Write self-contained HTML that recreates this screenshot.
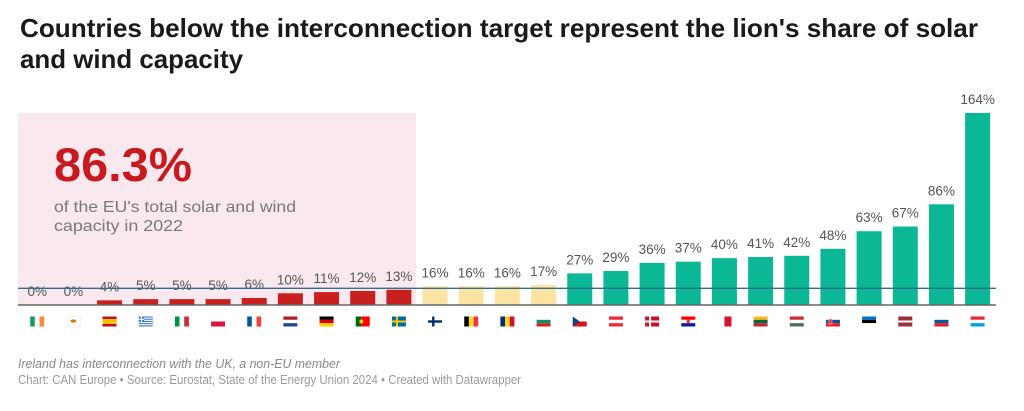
<!DOCTYPE html>
<html><head><meta charset="utf-8"><style>
html,body{margin:0;padding:0;background:#fff;}
svg{display:block;font-family:"Liberation Sans",sans-serif;}
</style></head><body>
<svg width="1024" height="411" viewBox="0 0 1024 411" xmlns="http://www.w3.org/2000/svg">
<text x="20" y="37" font-size="26" font-weight="bold" fill="#1a1a1a" textLength="958" lengthAdjust="spacingAndGlyphs">Countries below the interconnection target represent the lion's share of solar</text>
<text x="20" y="68" font-size="26" font-weight="bold" fill="#1a1a1a" textLength="223" lengthAdjust="spacingAndGlyphs">and wind capacity</text>
<rect x="18" y="113" width="398" height="192" fill="#f9e8ee"/>
<text x="54" y="181" font-size="47" font-weight="bold" fill="#c8191e" textLength="138" lengthAdjust="spacingAndGlyphs">86.3%</text>
<text x="54" y="212" font-size="16" fill="#787878" textLength="242" lengthAdjust="spacingAndGlyphs">of the EU's total solar and wind</text>
<text x="54" y="231" font-size="16" fill="#787878" textLength="129" lengthAdjust="spacingAndGlyphs">capacity in 2022</text>
<g id="bars"></g>
<g id="labels" font-size="13.5" fill="#555" text-anchor="middle"></g>
<line x1="18" y1="288.3" x2="996" y2="288.3" stroke="#2f6f8c" stroke-width="1.3"/>
<line x1="18" y1="305" x2="996" y2="305" stroke="#666" stroke-width="1.5"/>
<g id="flags"></g>
<text x="18" y="368" font-size="13" font-style="italic" fill="#888" textLength="322" lengthAdjust="spacingAndGlyphs">Ireland has interconnection with the UK, a non-EU member</text>
<text x="18" y="384" font-size="13" fill="#9a9a9a" textLength="503" lengthAdjust="spacingAndGlyphs">Chart: CAN Europe • Source: Eurostat, State of the Energy Union 2024 • Created with Datawrapper</text>
</svg>
<script>
var vals=[0,0,4,5,5,5,6,10,11,12,13,16,16,16,17,27,29,36,37,40,41,42,48,63,67,86,164];
var NS="http://www.w3.org/2000/svg";
var bars=document.getElementById("bars"),labels=document.getElementById("labels"),flags=document.getElementById("flags");
function col(v,i){if(i<=10)return "#c8201e";if(i<=14)return "#fde3a2";return "#0bb794";}
function el(n,a,p){var e=document.createElementNS(NS,n);for(var k in a)e.setAttribute(k,a[k]);p.appendChild(e);return e;}
var codes=["IE","CY","ES","GR","IT","PL","FR","NL","DE","PT","SE","FI","BE","RO","BG","CZ","AT","DK","HR","MT","LT","HU","SK","EE","LV","SI","LU"];
function v3(g,a,b,c){el("rect",{x:0,y:0,width:4.67,height:10,fill:a},g);el("rect",{x:4.67,y:0,width:4.67,height:10,fill:b},g);el("rect",{x:9.33,y:0,width:4.67,height:10,fill:c},g);}
function h3(g,a,b,c){el("rect",{x:0,y:0,width:14,height:3.34,fill:a},g);el("rect",{x:0,y:3.33,width:14,height:3.34,fill:b},g);el("rect",{x:0,y:6.66,width:14,height:3.34,fill:c},g);}
function flag(g,c){
switch(c){
case"IE":v3(g,"#169b62","#fff","#ff883e");break;
case"CY":el("rect",{x:0,y:0,width:14,height:10,fill:"#fff",stroke:"#e4e4e4","stroke-width":0.5},g);el("ellipse",{cx:7,cy:4.5,rx:3,ry:1.6,fill:"#d57800"},g);break;
case"ES":el("rect",{x:0,y:0,width:14,height:10,fill:"#c60b1e"},g);el("rect",{x:0,y:2.5,width:14,height:5,fill:"#ffc400"},g);break;
case"GR":el("rect",{x:0,y:0,width:14,height:10,fill:"#3f7fc8"},g);for(var k=0;k<4;k++)el("rect",{x:0,y:1.1+k*2.2,width:14,height:1.1,fill:"#fff"},g);el("rect",{x:0,y:0,width:5.5,height:5.5,fill:"#3f7fc8"},g);el("rect",{x:2.2,y:0,width:1.1,height:5.5,fill:"#fff"},g);el("rect",{x:0,y:2.2,width:5.5,height:1.1,fill:"#fff"},g);break;
case"IT":v3(g,"#009246","#fff","#ce2b37");break;
case"PL":el("rect",{x:0,y:0,width:14,height:5,fill:"#fff"},g);el("rect",{x:0,y:5,width:14,height:5,fill:"#dc143c"},g);break;
case"FR":v3(g,"#0055a4","#fff","#ef4135");break;
case"NL":h3(g,"#ae1c28","#fff","#21468b");break;
case"DE":h3(g,"#000","#dd0000","#ffce00");break;
case"PT":el("rect",{x:0,y:0,width:5.6,height:10,fill:"#006600"},g);el("rect",{x:5.6,y:0,width:8.4,height:10,fill:"#ff0000"},g);el("circle",{cx:5.6,cy:5,r:2,fill:"#ffcc00"},g);break;
case"SE":el("rect",{x:0,y:0,width:14,height:10,fill:"#006aa7"},g);el("rect",{x:4,y:0,width:2,height:10,fill:"#fecc00"},g);el("rect",{x:0,y:4,width:14,height:2,fill:"#fecc00"},g);break;
case"FI":el("rect",{x:0,y:0,width:14,height:10,fill:"#fff"},g);el("rect",{x:4,y:0,width:2.4,height:10,fill:"#002f6c"},g);el("rect",{x:0,y:3.8,width:14,height:2.4,fill:"#002f6c"},g);break;
case"BE":v3(g,"#000","#fdda24","#ef3340");break;
case"RO":v3(g,"#002b7f","#fcd116","#ce1126");break;
case"BG":h3(g,"#fff","#00966e","#d62612");break;
case"CZ":el("rect",{x:0,y:0,width:14,height:5,fill:"#fff"},g);el("rect",{x:0,y:5,width:14,height:5,fill:"#d7141a"},g);el("polygon",{points:"0,0 7,5 0,10",fill:"#11457e"},g);break;
case"AT":h3(g,"#ed2939","#fff","#ed2939");break;
case"DK":el("rect",{x:0,y:0,width:14,height:10,fill:"#c8102e"},g);el("rect",{x:4,y:0,width:2,height:10,fill:"#fff"},g);el("rect",{x:0,y:4,width:14,height:2,fill:"#fff"},g);break;
case"HR":h3(g,"#ff0000","#fff","#171796");el("rect",{x:5.5,y:2.5,width:3,height:4,fill:"#e03030"},g);break;
case"MT":el("rect",{x:0,y:0,width:7,height:10,fill:"#fff"},g);el("rect",{x:7,y:0,width:7,height:10,fill:"#cf142b"},g);break;
case"LT":h3(g,"#fdb913","#006a44","#c1272d");break;
case"HU":h3(g,"#ce2939","#fff","#477050");break;
case"SK":h3(g,"#fff","#0b4ea2","#ee1c25");el("rect",{x:3,y:2.5,width:3,height:5,fill:"#ee1c25",stroke:"#fff","stroke-width":0.5},g);break;
case"EE":h3(g,"#0072ce","#000","#fff");break;
case"LV":el("rect",{x:0,y:0,width:14,height:10,fill:"#9e3039"},g);el("rect",{x:0,y:4,width:14,height:2,fill:"#fff"},g);break;
case"SI":h3(g,"#fff","#005da4","#ed1c24");break;
case"LU":h3(g,"#ed2939","#fff","#00a1de");break;
}}
for(var i=0;i<vals.length;i++){
 var c=37.2+36.17*i, h=vals[i]*1.171;
 if(h>0) el("rect",{x:(c-12.5).toFixed(2),y:(305-h).toFixed(2),width:25,height:h.toFixed(2),fill:col(vals[i],i)},bars);
 var t=el("text",{x:c.toFixed(2),y:(305-h-9).toFixed(2)},labels);t.textContent=vals[i]+"%";
 var g=el("g",{transform:"translate("+(c-7).toFixed(2)+",316.5)"},flags);
 flag(g,codes[i]);
}
</script>
</body></html>
